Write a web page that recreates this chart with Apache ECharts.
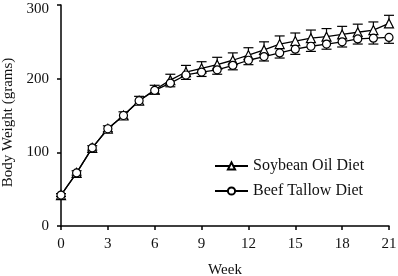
<!DOCTYPE html>
<html>
<head>
<meta charset="utf-8">
<script src="https://cdn.jsdelivr.net/npm/echarts@6/dist/echarts.min.js"></script>
<style>
html, body { margin: 0; padding: 0; background: #fff; }
#main { width: 398px; height: 276px; }
</style>
</head>
<body>
<div id="main"></div>
<script>
var weeks = [0, 1, 2, 3, 4, 5, 6, 7, 8, 9, 10, 11, 12, 13, 14, 15, 16, 17, 18, 19, 20, 21];
var soybean = [42, 72, 106, 132, 150, 170, 185, 198, 209, 214, 219, 225, 232, 239, 247, 251, 255, 257, 260, 263, 266, 275];
var soybeanErr = [2, 3, 3, 4, 5, 6, 6, 8, 9, 9, 10, 10, 10, 11, 11, 11, 11, 11, 11, 11, 11, 11];
var beef = [42, 72, 106, 132, 150, 170, 184, 194, 205, 209, 212, 218, 225, 230, 235, 240, 244, 247, 250, 254, 255, 256];
var beefErr = [2, 3, 3, 4, 5, 5, 5, 5, 6, 6, 6, 6, 6, 6, 7, 7, 7, 7, 7, 7, 8, 8];
var xTicks = [0, 3, 6, 9, 12, 15, 18, 21];
var yTicks = [0, 100, 200, 300];

var font = 'Liberation Serif';

function pairs(vals) {
	return weeks.map(function (w, i) { return [w, vals[i]]; });
}

function errData(vals, errs, dir) {
	return weeks.map(function (w, i) { return [w, vals[i], vals[i] + dir * errs[i]]; });
}

function errRender(params, api) {
	var p0 = api.coord([api.value(0), api.value(1)]);
	var p1 = api.coord([api.value(0), api.value(2)]);
	var cap = 5;
	return {
		type: 'group',
		children: [
			{ type: 'line', shape: { x1: p0[0], y1: p0[1], x2: p1[0], y2: p1[1] }, style: { stroke: '#000', lineWidth: 1.2 } },
			{ type: 'line', shape: { x1: p1[0] - cap, y1: p1[1], x2: p1[0] + cap, y2: p1[1] }, style: { stroke: '#000', lineWidth: 1.2 } }
		]
	};
}

var myChart = echarts.init(document.getElementById('main'));
var option = {
	animation: false,
	backgroundColor: '#fff',
	textStyle: { fontFamily: font },
	legend: {
		orient: 'vertical',
		left: 214,
		top: 158,
		padding: 0,
		itemWidth: 33,
		itemHeight: 9,
		itemGap: 9,
		textStyle: { fontFamily: font, fontSize: 16, color: '#111' },
		data: ['Soybean Oil Diet', 'Beef Tallow Diet']
	},
	grid: {
		left: 61,
		right: 9,
		top: 5,
		bottom: 50,
		outerBoundsMode: 'none'
	},
	xAxis: {
		type: 'value',
		min: 0,
		max: 21,
		interval: 3,
		name: 'Week',
		nameLocation: 'middle',
		nameGap: 37,
		nameTextStyle: { fontFamily: font, fontSize: 15, color: '#111' },
		axisLine: { lineStyle: { color: '#000', width: 1.5 } },
		axisTick: { show: true, length: 4, lineStyle: { color: '#000', width: 1.5 } },
		axisLabel: {
			margin: 11, fontFamily: font, fontSize: 15, color: '#111',
			customValues: xTicks
		},
		splitLine: { show: false }
	},
	yAxis: {
		type: 'value',
		min: 0,
		max: 300,
		interval: 100,
		name: 'Body Weight (grams)',
		nameLocation: 'middle',
		nameGap: 41,
		nameTextStyle: { fontFamily: font, fontSize: 15, color: '#111', padding: [0, 14, 0, 0] },
		axisLine: { show: true, lineStyle: { color: '#000', width: 1.5 } },
		axisTick: { show: true, length: 4, lineStyle: { color: '#000', width: 1.5 } },
		axisLabel: {
			margin: 12, fontFamily: font, fontSize: 15, color: '#111',
			customValues: yTicks,
			formatter: function (v) { return v === 300 ? '{top|' + v + '}' : String(v); },
			rich: { top: { fontFamily: font, fontSize: 15, color: '#111', padding: [8, 0, 0, 0] } }
		},
		splitLine: { show: false }
	},
	series: [
		{
			name: 'Soybean Oil Diet',
			type: 'line',
			data: pairs(soybean),
			symbol: 'triangle',
			symbolSize: 9,
			itemStyle: { color: '#fff', borderColor: '#000', borderWidth: 1.2 },
			lineStyle: { color: '#000', width: 1.3 },
			z: 3
		},
		{
			name: 'Beef Tallow Diet',
			type: 'line',
			data: pairs(beef),
			symbol: 'circle',
			symbolSize: 8,
			itemStyle: { color: '#fff', borderColor: '#000', borderWidth: 1.2 },
			lineStyle: { color: '#000', width: 1.3 },
			z: 3
		},
		{
			type: 'custom',
			renderItem: errRender,
			data: errData(soybean, soybeanErr, 1),
			z: 2
		},
		{
			type: 'custom',
			renderItem: errRender,
			data: errData(beef, beefErr, -1),
			z: 2
		}
	]
};
myChart.setOption(option);
</script>
</body>
</html>
